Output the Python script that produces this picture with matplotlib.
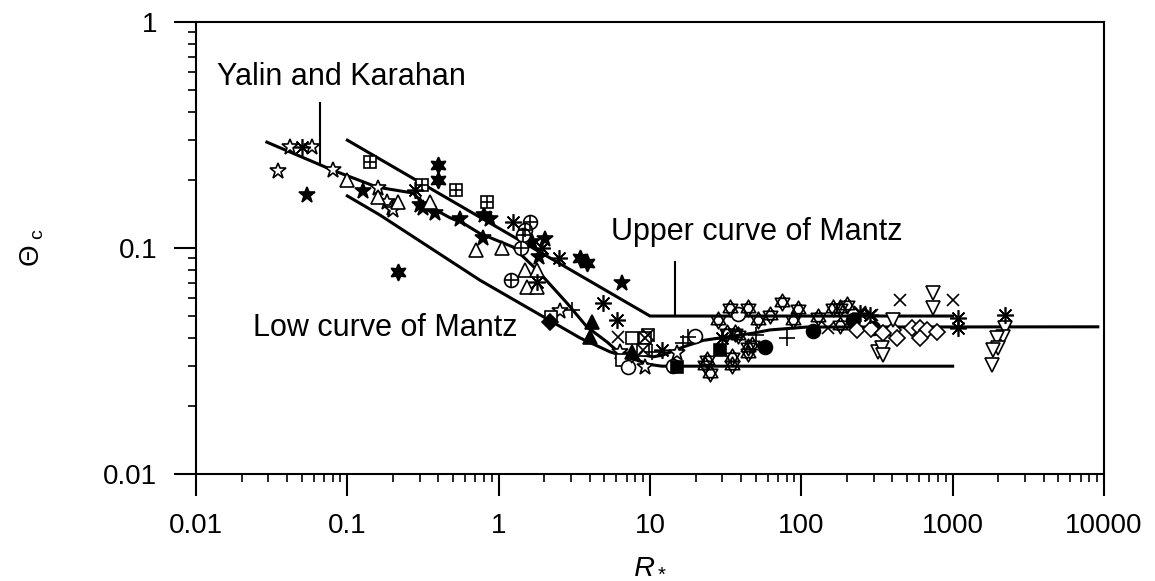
import numpy as np
import matplotlib
matplotlib.use('Agg')
import matplotlib.pyplot as plt
from matplotlib.path import Path
from matplotlib.ticker import FixedLocator, FixedFormatter, LogLocator, NullFormatter

plt.rcParams['font.family'] = ['Liberation Sans', 'DejaVu Sans']
plt.rcParams['mathtext.fontset'] = 'custom'
plt.rcParams['mathtext.rm'] = 'Liberation Sans'
plt.rcParams['mathtext.it'] = 'Liberation Sans:italic'

# ---- curves ----
upper_x = [0.1, 10, 1000]
upper_y = [0.3, 0.05, 0.05]

low_x = [0.1, 0.164, 0.753, 3.45, 5.45, 7.4, 10, 12, 1000]
low_y = [0.17, 0.14, 0.072, 0.040, 0.0347, 0.0326, 0.0305, 0.030, 0.030]

yk_x = [0.0294, 0.080, 0.157, 0.272, 0.316, 0.478, 0.58, 0.75, 1.245, 1.79, 2.83,
        3.84, 5.2, 6.3, 7.7, 10.5, 12.2, 16.6, 22.4, 29, 48, 62, 109, 219, 9100]
yk_y = [0.294, 0.221, 0.186, 0.175, 0.158, 0.136, 0.129, 0.116, 0.101, 0.080, 0.057,
        0.0447, 0.0384, 0.0343, 0.0343, 0.033, 0.0336, 0.0365, 0.039, 0.040, 0.042,
        0.0434, 0.0447, 0.0447, 0.0448]

# ---- data points, one pair of lists per symbol ----
ostar_x = [0.0348, 0.0418, 0.0585, 0.080, 0.160, 0.183, 0.197, 0.20, 2.55, 6.34, 9.3, 15.1]
ostar_y = [0.219, 0.280, 0.280, 0.221, 0.184, 0.160, 0.150, 0.147, 0.0526, 0.0347, 0.0297, 0.0343]

fstar_x = [0.0542, 0.127, 0.302, 0.316, 0.380, 0.556, 0.80, 0.88, 0.79, 1.66, 2.03, 1.85, 6.54]
fstar_y = [0.172, 0.179, 0.155, 0.150, 0.143, 0.134, 0.140, 0.134, 0.111, 0.106, 0.110, 0.0912, 0.070]

f6star_x = [0.397, 0.397, 0.216, 3.45, 3.84]
f6star_y = [0.233, 0.200, 0.0783, 0.0903, 0.0859]

aster_x = [0.0502, 0.280, 1.24, 1.94, 2.51, 1.79, 4.90, 6.06, 12.0, 29.9, 1087, 1087, 2225, 285, 245]
aster_y = [0.280, 0.181, 0.130, 0.100, 0.0903, 0.0707, 0.0571, 0.0480, 0.0354, 0.040, 0.049, 0.0443, 0.0506, 0.0506, 0.0514]

boxplus_x = [0.141, 0.312, 0.52, 0.84]
boxplus_y = [0.240, 0.190, 0.181, 0.160]

otri_x = [0.0995, 0.160, 0.216, 0.352, 0.71, 1.05, 1.49, 1.79, 1.54, 1.79]
otri_y = [0.200, 0.168, 0.160, 0.160, 0.098, 0.100, 0.080, 0.080, 0.0672, 0.0672]

oplus_x = [1.61, 1.49, 1.45, 1.41, 1.21]
oplus_y = [0.130, 0.120, 0.114, 0.100, 0.0722]

osq_x = [2.22, 7.62, 6.54]
osq_y = [0.0495, 0.040, 0.0319]

plus_x = [3.05, 10.3, 16.6, 17.9, 50.2, 80.5]
plus_y = [0.0532, 0.0347, 0.038, 0.0404, 0.0412, 0.040]

fdia_x = [2.19]
fdia_y = [0.0471]

ftri_x = [4.14, 4.02, 7.62]
ftri_y = [0.0471, 0.0404, 0.0347]

cross_x = [6.15, 8.22, 150, 450, 1007, 245, 294]
cross_y = [0.0404, 0.033, 0.0443, 0.0589, 0.0589, 0.0521, 0.0506]

ocirc_x = [7.16, 14.2, 19.9, 38.2]
ocirc_y = [0.0297, 0.030, 0.0408, 0.0511]

boxx_x = [9.7, 9.3, 9.0]
boxx_y = [0.0412, 0.040, 0.0354]

fsq_x = [15.1, 29.0]
fsq_y = [0.0297, 0.0354]

hexa_x = [23.8, 24.9, 23.1, 34.9, 34.9, 44.5, 47.3, 44.5, 33.8, 44.5, 51.8, 62.2, 74.7,
          95.3, 88.3, 129, 162, 180, 201, 28.2, 38.2, 36.5, 32.3, 180]
hexa_y = [0.0319, 0.028, 0.0303, 0.033, 0.0303, 0.0365, 0.0372, 0.0343, 0.0543, 0.0543,
          0.048, 0.0506, 0.0577, 0.0537, 0.048, 0.0495, 0.0543, 0.0543, 0.0560, 0.048,
          0.0412, 0.0421, 0.0421, 0.0456]

fcirc_x = [57.7, 120, 220, 298]
fcirc_y = [0.0365, 0.0430, 0.048, 0.0443]

odia_x = [234, 290, 540, 610, 678, 790, 610, 405, 430, 348]
odia_y = [0.0434, 0.044, 0.0443, 0.0443, 0.0434, 0.0425, 0.040, 0.0434, 0.040, 0.0421]

dtri_x = [322, 342, 348, 743, 743, 405, 2225, 2158, 1968, 2000, 1853, 1824]
dtri_y = [0.0347, 0.0361, 0.0336, 0.0632, 0.0543, 0.048, 0.0443, 0.0404, 0.040, 0.0361, 0.0354, 0.0303]

xticks = [0.01, 0.1, 1, 10, 100, 1000, 10000]
xticklabels = ['0.01', '0.1', '1', '10', '100', '1000', '10000']
yticks = [0.01, 0.1, 1]
yticklabels = ['0.01', '0.1', '1']

# hexagram (two triangles) marker
h = np.sqrt(3) / 2
tri_up = [(0, 1), (-h, -0.5), (h, -0.5), (0, 1)]
tri_dn = [(0, -1), (-h, 0.5), (h, 0.5), (0, -1)]
hexagram = Path(tri_up + tri_dn,
                [Path.MOVETO, Path.LINETO, Path.LINETO, Path.CLOSEPOLY] * 2)

fig = plt.figure(figsize=(11.55, 5.81), dpi=100)
ax = fig.add_axes([196 / 1155, 1 - 474 / 581, 908 / 1155, 452 / 581])
ax.set_xscale('log')
ax.set_yscale('log')
ax.set_xlim(0.01, 10000)
ax.set_ylim(0.01, 1)

lw = 2.2
ax.plot(upper_x, upper_y, color='black', lw=lw, zorder=2)
ax.plot(low_x, low_y, color='black', lw=lw, zorder=2)
ax.plot(yk_x, yk_y, color='black', lw=lw, zorder=2)


def pts(x, y, marker, ms=9, filled=False, mew=1.2):
    ax.plot(x, y, linestyle='none', marker=marker, markersize=ms,
            markerfacecolor='black' if filled else 'white',
            markeredgecolor='black', markeredgewidth=mew, zorder=3)


def pts_line(x, y, marker, ms=9, mew=1.2):
    ax.plot(x, y, linestyle='none', marker=marker, markersize=ms,
            color='black', markeredgewidth=mew, zorder=4)


pts(ostar_x, ostar_y, '*', ms=12)
pts(fstar_x, fstar_y, '*', ms=12, filled=True)
pts(f6star_x, f6star_y, (6, 1, 0), ms=12, filled=True)
pts_line(aster_x, aster_y, (8, 2, 0), ms=12)
pts(boxplus_x, boxplus_y, 's', ms=9)
pts_line(boxplus_x, boxplus_y, '+', ms=9)
pts(otri_x, otri_y, '^', ms=10)
pts(oplus_x, oplus_y, 'o', ms=10)
pts_line(oplus_x, oplus_y, '+', ms=10)
pts(osq_x, osq_y, 's', ms=9)
pts_line(plus_x, plus_y, '+', ms=12)
pts(fdia_x, fdia_y, 'D', ms=8, filled=True)
pts(ftri_x, ftri_y, '^', ms=10, filled=True)
pts_line(cross_x, cross_y, 'x', ms=9)
pts(ocirc_x, ocirc_y, 'o', ms=10)
pts(boxx_x, boxx_y, 's', ms=9)
pts_line(boxx_x, boxx_y, 'x', ms=9)
pts(fsq_x, fsq_y, 's', ms=9, filled=True)
ax.plot(hexa_x, hexa_y, linestyle='none', marker=hexagram, markersize=12,
        markerfacecolor='none', markeredgecolor='black', markeredgewidth=1.2, zorder=3)
pts(fcirc_x, fcirc_y, 'o', ms=10, filled=True)
pts(odia_x, odia_y, 'D', ms=8)
pts(dtri_x, dtri_y, 'v', ms=10)

# leader lines for the labels
ax.plot([0.066, 0.066], [0.438, 0.238], color='black', lw=1.5)
ax.plot([14.7, 14.7], [0.0867, 0.05], color='black', lw=1.5)

ax.text(0.0138, 0.571, 'Yalin and Karahan', fontsize=22, va='center', ha='left')
ax.text(5.5, 0.118, 'Upper curve of Mantz', fontsize=22, va='center', ha='left')
ax.text(0.0238, 0.0443, 'Low curve of Mantz', fontsize=22, va='center', ha='left')

for s in ax.spines.values():
    s.set_linewidth(1.5)

ax.xaxis.set_major_locator(FixedLocator(xticks))
ax.xaxis.set_major_formatter(FixedFormatter(xticklabels))
ax.yaxis.set_major_locator(FixedLocator(yticks))
ax.yaxis.set_major_formatter(FixedFormatter(yticklabels))
ax.xaxis.set_minor_locator(LogLocator(base=10, subs=np.arange(2, 10), numticks=20))
ax.yaxis.set_minor_locator(LogLocator(base=10, subs=np.arange(2, 10), numticks=20))
ax.xaxis.set_minor_formatter(NullFormatter())
ax.yaxis.set_minor_formatter(NullFormatter())
ax.tick_params(which='major', direction='out', length=16, width=1.5, labelsize=20, pad=12)
ax.tick_params(which='minor', direction='out', length=6, width=1.2)

ax.set_xlabel(r'$\mathit{R}_*$', fontsize=21)
ax.xaxis.set_label_coords(0.5, -0.17)
ax.set_ylabel(r'$\Theta_{\ \mathrm{c}}$', fontsize=20)
ax.yaxis.set_label_coords(-0.165, 0.5)

fig.savefig('out.png', dpi=100)
